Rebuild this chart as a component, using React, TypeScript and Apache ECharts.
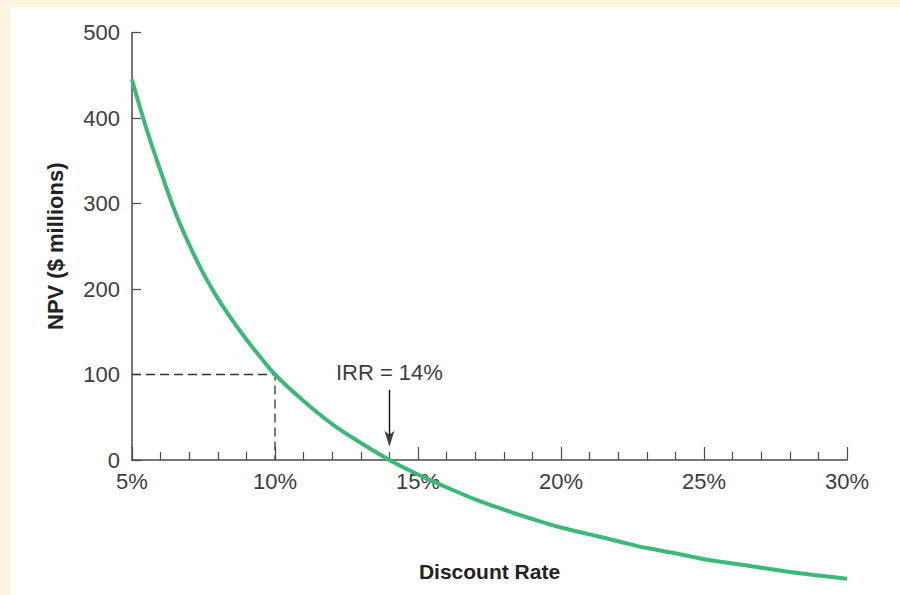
import React, { useEffect, useRef } from "react";
import * as echarts from "echarts";

// Discount rate (%) and NPV ($ millions)
const rates = [5, 5.5, 6, 6.5, 7, 7.5, 8, 8.5, 9, 9.5, 10, 11, 12, 13, 14, 15, 16, 17, 18, 19, 20, 21, 22, 23, 24, 25, 26, 27, 28, 29, 30];
const npv = [445, 388, 338, 291, 252, 218, 189, 164, 141, 120, 100, 69, 42, 20, 0, -17, -32, -46, -58, -69, -79, -87, -95, -103, -109, -116, -121, -126, -131, -135, -139];

// Dashed guide: NPV at 10% discount rate
const guideX = [5, 10, 10];
const guideY = [100, 100, 0];

// IRR annotation
const irrRate = 14;
const irrLabel = "IRR = 14%";
const arrowFrom = 82;
const arrowTo = 28;
const arrowHeadAt = 25;

// Axis ranges / ticks
const xMin = 5, xMax = 30, xStep = 5;
const yMin = 0, yMax = 500, yStep = 100;
const curveYMin = -140;

const xName = "Discount Rate";
const yName = "NPV ($ millions)";

const FONT = "'Liberation Sans', Arial, Helvetica, sans-serif";
const TEXT = "#3d3d3d";
const AXIS = "#4a4a4a";
const GREEN = "#3cb878";

export default function App() {
  const ref = useRef<HTMLDivElement>(null);

  useEffect(() => {
    if (!ref.current) return;
    const chart = echarts.init(ref.current, undefined, { renderer: "svg" });

    const curve = rates.map((r, i) => [r, npv[i]]);
    const guide = guideX.map((x, i) => [x, guideY[i]]);

    const gridBase = { left: 122, right: 53, top: 25.5 };

    chart.setOption({
      animation: false,
      backgroundColor: "transparent",
      textStyle: { fontFamily: FONT },
      grid: [
        { ...gridBase, bottom: 135 },
        { ...gridBase, bottom: 15.3 },
      ],
      xAxis: [
        {
          type: "value",
          gridIndex: 0,
          min: xMin,
          max: xMax,
          interval: xStep,
          name: xName,
          nameLocation: "middle",
          nameGap: 101,
          nameTextStyle: { fontFamily: FONT, fontSize: 21, fontWeight: "bold", color: "#222" },
          axisLine: { show: true, lineStyle: { color: AXIS, width: 1.5 } },
          axisTick: { show: true, inside: true, length: 13, lineStyle: { color: AXIS, width: 1.2 } },
          minorTick: { show: true, splitNumber: 5, length: 8, lineStyle: { color: AXIS, width: 1.2 } },
          splitLine: { show: false },
          minorSplitLine: { show: false },
          axisLabel: {
            formatter: "{value}%",
            fontFamily: FONT,
            fontSize: 22,
            color: TEXT,
            margin: 10,
          },
        },
        {
          type: "value",
          gridIndex: 1,
          min: xMin,
          max: xMax,
          show: false,
        },
      ],
      yAxis: [
        {
          type: "value",
          gridIndex: 0,
          min: yMin,
          max: yMax,
          interval: yStep,
          name: yName,
          nameLocation: "middle",
          nameRotate: 90,
          nameGap: 66,
          nameTextStyle: { fontFamily: FONT, fontSize: 22, fontWeight: "bold", color: "#222" },
          axisLine: { show: true, lineStyle: { color: AXIS, width: 1.5 } },
          axisTick: { show: true, inside: true, length: 9, lineStyle: { color: AXIS, width: 1.2 } },
          splitLine: { show: false },
          axisLabel: { fontFamily: FONT, fontSize: 22, color: TEXT, margin: 12 },
        },
        {
          type: "value",
          gridIndex: 1,
          min: curveYMin,
          max: yMax,
          show: false,
        },
      ],
      series: [
        {
          type: "line",
          xAxisIndex: 0,
          yAxisIndex: 0,
          data: guide,
          showSymbol: false,
          symbol: "none",
          silent: true,
          lineStyle: { color: "#333", width: 1.3, type: [9, 5] },
          markLine: {
            silent: true,
            symbol: ["none", "none"],
            lineStyle: { color: "#111", width: 1.4, type: "solid" },
            label: {
              show: true,
              position: "start",
              distance: 6,
              formatter: irrLabel,
              fontFamily: FONT,
              fontSize: 22,
              color: TEXT,
            },
            data: [[{ coord: [irrRate, arrowFrom] }, { coord: [irrRate, arrowTo] }]],
          },
        },
        {
          type: "scatter",
          xAxisIndex: 0,
          yAxisIndex: 0,
          silent: true,
          data: [[irrRate, arrowHeadAt]],
          symbol: "path://M0,0 L5,4 L10,0 L5,16 Z",
          symbolSize: [10, 16],
          itemStyle: { color: "#111" },
          z: 4,
        },
        {
          type: "line",
          xAxisIndex: 1,
          yAxisIndex: 1,
          data: curve,
          smooth: 0.4,
          showSymbol: false,
          symbol: "none",
          lineStyle: { color: GREEN, width: 4 },
          z: 3,
        },
      ],
    });

    return () => chart.dispose();
  }, []);

  return (
    <div
      style={{
        position: "fixed",
        left: 0,
        top: 0,
        width: 900,
        height: 595,
        background: "#fdf3df",
        overflow: "hidden",
      }}
    >
      <div
        style={{
          position: "absolute",
          left: 10,
          top: 7,
          width: 890,
          height: 588,
          background: "#ffffff",
        }}
      >
        <div ref={ref} style={{ width: 890, height: 588 }} />
      </div>
    </div>
  );
}
